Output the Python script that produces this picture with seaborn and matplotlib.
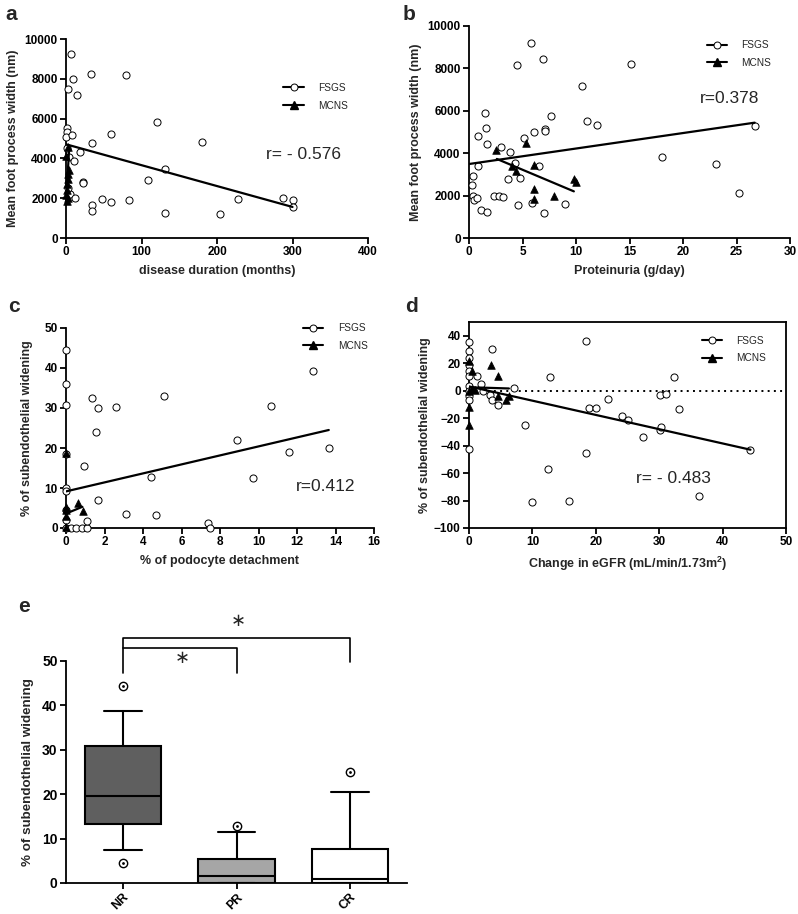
import numpy as np
import pandas as pd
import matplotlib
matplotlib.use("Agg")
import matplotlib.pyplot as plt
from matplotlib.lines import Line2D
import seaborn as sns

# ---------------- data ----------------
# panel a: disease duration (months) vs mean foot process width (nm)
a_fsgs_x = [6, 33, 80, 9, 2, 14, 120, 1, 1.5, 0.5, 8, 60, 35, 180, 18, 4.5, 11, 131, 108, 23,
            23, 5, 11.5, 48, 60, 84, 35, 35, 131, 204, 228, 288, 300, 300, 1, 3]
a_fsgs_y = [9230, 8260, 8210, 7970, 7490, 7190, 5810, 5540, 5340, 5090, 5180, 5230, 4760, 4840,
            4300, 4090, 3850, 3450, 2900, 2830, 2760, 2190, 2030, 1960, 1790, 1910, 1660, 1340,
            1240, 1210, 1940, 2010, 1890, 1560, 4500, 2500]
a_mcns_x = [2, 0.5, 4, 3, 2, 1.5, 1, 0.5, 2, 1]
a_mcns_y = [4560, 4130, 3430, 3210, 2950, 2710, 2400, 2180, 2000, 1850]
a_fsgs_fit_x = [0, 300]
a_fsgs_fit_y = [4710, 1560]
a_mcns_fit_x = [0.5, 4]
a_mcns_fit_y = [2000, 4400]
a_r_text = "r= - 0.576"

# panel b: proteinuria (g/day) vs mean foot process width (nm)
b_fsgs_x = [5.8, 4.5, 6.9, 15.1, 10.6, 1.5, 1.6, 0.8, 1.7, 7.7, 7.1, 7.1, 11.0, 12.0, 5.1, 6.1,
            3.0, 3.8, 0.4, 0.3, 0.8, 4.3, 6.5, 3.6, 4.8, 0.4, 0.45, 0.75, 2.3, 2.8, 3.2, 1.1,
            1.65, 4.6, 5.9, 7.0, 9.0, 18.0, 23.1, 25.2, 26.7]
b_fsgs_y = [9180, 8180, 8440, 8220, 7170, 5910, 5200, 4830, 4450, 5770, 5150, 5050, 5500, 5310,
            4730, 5020, 4280, 4060, 2910, 2480, 3400, 3520, 3400, 2770, 2810, 2000, 1780, 1900,
            2000, 2000, 1930, 1300, 1210, 1560, 1640, 1190, 1620, 3840, 3510, 2140, 5280]
b_mcns_x = [2.5, 5.3, 4.0, 4.35, 6.05, 6.05, 6.05, 7.95, 9.8, 10.0]
b_mcns_y = [4140, 4500, 3400, 3160, 3440, 2310, 1860, 1970, 2780, 2640]
b_fsgs_fit_x = [0, 26.7]
b_fsgs_fit_y = [3490, 5440]
b_mcns_fit_x = [2.6, 9.8]
b_mcns_fit_y = [3730, 2200]
b_r_text = "r=0.378"

# panel c: % podocyte detachment vs % subendothelial widening
c_fsgs_x = [0, 0, 0, 0, 0, 0, 0, 0, 0, 0.27, 0.54, 0.81, 1.07, 1.09, 1.35, 1.66, 2.58, 1.57,
            0.92, 1.66, 3.1, 4.69, 4.43, 5.1, 7.37, 7.49, 8.89, 9.69, 10.66, 11.57, 12.85, 13.65]
c_fsgs_y = [44.4, 36.1, 30.8, 18.6, 10.1, 9.2, 4.5, 2.0, 0, 0, 0, 0, 0, 1.8, 32.4, 30.1, 30.3,
            24.1, 15.6, 7.0, 3.5, 3.2, 12.7, 33.1, 1.25, 0, 22.0, 12.5, 30.4, 19.1, 39.2, 20.1]
c_mcns_x = [0, 0, 0, 0, 0, 0.6, 0.9]
c_mcns_y = [18.8, 5.2, 4.4, 3.0, 0.2, 6.2, 4.3]
c_fsgs_fit_x = [0, 13.65]
c_fsgs_fit_y = [9.15, 24.5]
c_mcns_fit_x = [0, 0.85]
c_mcns_fit_y = [3.6, 5.3]
c_r_text = "r=0.412"

# panel d: change in eGFR vs % subendothelial widening
d_fsgs_x = [18.4, 3.6, 12.8, 32.4, 7.1, 21.9, 19.0, 20.1, 33.1, 30.1, 31.0, 24.1, 25.0, 27.5,
            30.1, 30.3, 8.9, 18.5, 12.5, 10.0, 15.7, 36.2, 44.4, 0, 0, 0, 0, 0, 0, 0, 0, 0, 0, 0,
            1.3, 1.9, 2.15, 3.3, 3.6, 4.6]
d_fsgs_y = [36.1, 30.4, 9.9, 9.9, 2.2, -6.3, -12.4, -12.7, -13.6, -3.2, -2.7, -18.2, -21.1,
            -33.8, -28.7, -26.7, -25.2, -45.4, -57.0, -80.8, -80.4, -77.0, -43.0, -42.5, 35.4,
            28.6, 23.8, 18.9, 14.0, 10.4, 3.1, -3.7, -6.6, -0.5, 10.4, 5.1, -0.5, -3.0, -6.6,
            -10.7]
d_mcns_x = [0, 0.4, 0.95, 0, 0, 0, 3.4, 4.5, 4.5, 5.8, 6.3, 0.4]
d_mcns_y = [21.3, 14.0, 0.7, 0, -12.2, -24.8, 18.9, 10.4, -3.7, -7.1, -3.7, 1.0]
d_fsgs_fit_x = [0, 44.4]
d_fsgs_fit_y = [3.1, -43.0]
d_mcns_fit_x = [0, 6.3]
d_mcns_fit_y = [2.5, 1.6]
d_r_text = "r= - 0.483"

# panel e: box plot of % subendothelial widening by response
e_groups = ["NR", "PR", "CR"]
e_whislo = [7.5, 0.0, 0.0]
e_q1 = [13.2, 0.0, 0.0]
e_med = [19.6, 1.5, 0.8]
e_q3 = [30.9, 5.5, 7.7]
e_whishi = [38.7, 11.4, 20.4]
e_fliers = [[44.4, 4.5], [12.8], [25.0]]
e_colors = ["#5f5f5f", "#a6a6a6", "#ffffff"]

# ---------------- style ----------------
sns.set_theme(style="ticks")
plt.rcParams["font.family"] = ["Liberation Sans", "DejaVu Sans"]
plt.rcParams["mathtext.default"] = "regular"

W, H = 798, 914
fig = plt.figure(figsize=(W / 100, H / 100), dpi=100)


def add_ax(left, top, right, bottom):
    return fig.add_axes([left / W, 1 - bottom / H, (right - left) / W, (bottom - top) / H])


SPINE_W = 1.3
TICK_FS = 8.5
LABEL_FS = 9


def style_axes(ax, box=False, tick_fs=TICK_FS):
    for s in ["left", "bottom", "top", "right"]:
        ax.spines[s].set_linewidth(SPINE_W)
        ax.spines[s].set_color("black")
    if not box:
        ax.spines["top"].set_visible(False)
        ax.spines["right"].set_visible(False)
    ax.tick_params(direction="out", length=4, width=SPINE_W, labelsize=tick_fs,
                   colors="black", pad=2)
    for lbl in ax.get_xticklabels() + ax.get_yticklabels():
        lbl.set_fontweight("bold")
    ax.grid(False)
    ax.set_facecolor("white")


def scatter_panel(ax, fx, fy, mx, my, ffx, ffy, mfx, mfy):
    sns.scatterplot(x=fx, y=fy, ax=ax, marker="o", s=26, color="white",
                    edgecolor="black", linewidth=0.7, clip_on=False, zorder=3)
    sns.scatterplot(x=mx, y=my, ax=ax, marker="^", s=30, color="black",
                    edgecolor="black", linewidth=0.5, clip_on=False, zorder=4)
    sns.lineplot(x=ffx, y=ffy, ax=ax, color="black", lw=1.6, sort=False,
                 estimator=None, zorder=5)
    sns.lineplot(x=mfx, y=mfy, ax=ax, color="black", lw=1.6, sort=False,
                 estimator=None, zorder=5)


def legend(ax, anchor):
    h = [Line2D([], [], color="black", lw=1.5, marker="o", mfc="white", mec="black",
                ms=5, mew=0.7),
         Line2D([], [], color="black", lw=1.5, marker="^", mfc="black", mec="black",
                ms=5.5)]
    ax.legend(h, ["FSGS", "MCNS"], loc="center left", bbox_to_anchor=anchor,
              frameon=False, fontsize=7.3, handlelength=2.0, handletextpad=1.4,
              labelspacing=0.75, borderaxespad=0, borderpad=0)


# ---- panel a ----
ax = add_ax(66, 39, 368, 238)
scatter_panel(ax, a_fsgs_x, a_fsgs_y, a_mcns_x, a_mcns_y,
              a_fsgs_fit_x, a_fsgs_fit_y, a_mcns_fit_x, a_mcns_fit_y)
ax.set_xlim(0, 400)
ax.set_ylim(0, 10000)
ax.set_xticks(np.arange(0, 401, 100))
ax.set_yticks(np.arange(0, 10001, 2000))
ax.set_xlabel("disease duration (months)", fontsize=LABEL_FS, fontweight="bold", labelpad=5)
ax.set_ylabel("Mean foot process width (nm)", fontsize=LABEL_FS, fontweight="bold", labelpad=4)
style_axes(ax)
legend(ax, (0.72, 0.71))
ax.text(265, 4220, a_r_text, fontsize=12.5, va="center", ha="left")
fig.text(5 / W, 1 - 14 / H, "a", fontsize=15, fontweight="bold", va="center", ha="left")

# ---- panel b ----
ax = add_ax(469, 26, 790, 238)
scatter_panel(ax, b_fsgs_x, b_fsgs_y, b_mcns_x, b_mcns_y,
              b_fsgs_fit_x, b_fsgs_fit_y, b_mcns_fit_x, b_mcns_fit_y)
ax.set_xlim(0, 30)
ax.set_ylim(0, 10000)
ax.set_xticks(np.arange(0, 31, 5))
ax.set_yticks(np.arange(0, 10001, 2000))
ax.set_xlabel("Proteinuria (g/day)", fontsize=LABEL_FS, fontweight="bold", labelpad=5)
ax.set_ylabel("Mean foot process width (nm)", fontsize=LABEL_FS, fontweight="bold", labelpad=4)
style_axes(ax)
legend(ax, (0.74, 0.868))
ax.text(21.6, 6560, b_r_text, fontsize=12.5, va="center", ha="left")
fig.text(403 / W, 1 - 14 / H, "b", fontsize=15, fontweight="bold", va="center", ha="left")

# ---- panel c ----
ax = add_ax(66, 328, 374, 528)
scatter_panel(ax, c_fsgs_x, c_fsgs_y, c_mcns_x, c_mcns_y,
              c_fsgs_fit_x, c_fsgs_fit_y, c_mcns_fit_x, c_mcns_fit_y)
ax.set_xlim(0, 16)
ax.set_ylim(0, 50)
ax.set_xticks(np.arange(0, 17, 2))
ax.set_yticks(np.arange(0, 51, 10))
ax.set_xlabel("% of podocyte detachment", fontsize=LABEL_FS, fontweight="bold", labelpad=5)
ax.set_ylabel("% of subendothelial widening", fontsize=LABEL_FS, fontweight="bold", labelpad=8)
style_axes(ax)
legend(ax, (0.77, 0.955))
ax.text(11.95, 10.3, c_r_text, fontsize=12.5, va="center", ha="left")
fig.text(8 / W, 1 - 306 / H, "c", fontsize=15, fontweight="bold", va="center", ha="left")

# ---- panel d ----
ax = add_ax(469, 322, 786, 528)
ax.axhline(0, color="black", lw=1.4, ls=(0, (1, 2.2)), zorder=2)
scatter_panel(ax, d_fsgs_x, d_fsgs_y, d_mcns_x, d_mcns_y,
              d_fsgs_fit_x, d_fsgs_fit_y, d_mcns_fit_x, d_mcns_fit_y)
ax.set_xlim(0, 50)
ax.set_ylim(-100, 50)
ax.set_xticks(np.arange(0, 51, 10))
ax.set_yticks(np.arange(-100, 41, 20))
ax.set_xlabel("Change in eGFR (mL/min/1.73m$^{2}$)", fontsize=LABEL_FS, fontweight="bold",
              labelpad=5)
ax.set_ylabel("% of subendothelial widening", fontsize=LABEL_FS, fontweight="bold", labelpad=2)
style_axes(ax, box=True)
legend(ax, (0.735, 0.866))
ax.text(26.3, -64.3, d_r_text, fontsize=12.5, va="center", ha="left")
fig.text(405 / W, 1 - 306 / H, "d", fontsize=15, fontweight="bold", va="center", ha="left")

# ---- panel e ----
ax = add_ax(66, 661, 407, 883)
positions = np.arange(len(e_groups))
stats = []
for i, g in enumerate(e_groups):
    stats.append(dict(label=g, whislo=e_whislo[i], q1=e_q1[i], med=e_med[i], q3=e_q3[i],
                      whishi=e_whishi[i], fliers=[]))
bp = ax.bxp(stats, positions=positions, widths=0.67, patch_artist=True, showfliers=False,
            capwidths=0.33,
            boxprops=dict(linewidth=1.5, edgecolor="black"),
            medianprops=dict(linewidth=1.5, color="black"),
            whiskerprops=dict(linewidth=1.5, color="black"),
            capprops=dict(linewidth=1.5, color="black"))
for patch, c in zip(bp["boxes"], e_colors):
    patch.set_facecolor(c)
fl = pd.DataFrame([(positions[i], v) for i in range(len(e_groups)) for v in e_fliers[i]],
                  columns=["pos", "val"])
sns.scatterplot(data=fl, x="pos", y="val", ax=ax, marker="o", s=36, color="white",
                edgecolor="black", linewidth=1.0, clip_on=False, zorder=5)
sns.scatterplot(data=fl, x="pos", y="val", ax=ax, marker="o", s=4, color="black",
                edgecolor="black", linewidth=0, clip_on=False, zorder=6)
ax.set_xlim(-0.5, 2.5)
ax.set_ylim(0, 50)
ax.set_yticks(np.arange(0, 51, 10))
ax.set_xticks(positions)
ax.set_xticklabels(e_groups, rotation=45, ha="right", va="top", rotation_mode="anchor")
ax.set_xlabel("")
ax.set_ylabel("% of subendothelial widening", fontsize=9.6, fontweight="bold", labelpad=6)
style_axes(ax, tick_fs=10)
ax.tick_params(axis="x", pad=2, labelsize=8.8)
# significance brackets
bk = dict(color="black", lw=1.2, clip_on=False)
ax.plot([0, 0, 2, 2], [47.4, 55.2, 55.2, 49.8], **bk)
ax.plot([0, 1, 1], [53.0, 53.0, 47.4], **bk)
ax.text(0.52, 50.7, "\u2217", fontsize=13, ha="center", va="center", clip_on=False,
        family="DejaVu Sans")
ax.text(1.02, 59.0, "\u2217", fontsize=13, ha="center", va="center", clip_on=False,
        family="DejaVu Sans")
fig.text(18 / W, 1 - 606 / H, "e", fontsize=15, fontweight="bold", va="center", ha="left")

fig.savefig("out.png", dpi=100, facecolor="white")
